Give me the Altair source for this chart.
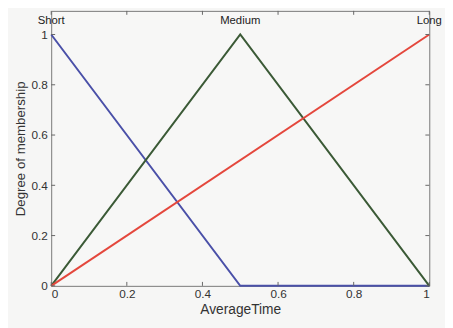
import altair as alt
import pandas as pd

# membership functions (x, y) for each set
short_x = [0.0, 0.5, 1.0]
short_y = [1.0, 0.0, 0.0]
medium_x = [0.0, 0.5, 1.0]
medium_y = [0.0, 1.0, 0.0]
long_x = [0.0, 1.0]
long_y = [0.0, 1.0]

set_names = ["Short", "Medium", "Long"]
label_x = [0.0, 0.5, 1.0]
label_y = [1.055, 1.055, 1.055]

tick_values = [0, 0.2, 0.4, 0.6, 0.8, 1]

colors = {"Short": "#4a50a8", "Medium": "#3b5a36", "Long": "#e4473c"}

rows = []
for name, xs, ys in [("Short", short_x, short_y), ("Medium", medium_x, medium_y), ("Long", long_x, long_y)]:
    for i, (a, b) in enumerate(zip(xs, ys)):
        rows.append({"set": name, "x": a, "y": b, "order": i})
df = pd.DataFrame(rows)
labels = pd.DataFrame({"name": set_names, "x": label_x, "y": label_y})
ticks = pd.DataFrame({"v": tick_values})

W, H = 385, 280
xs = alt.Scale(domain=[0, 1], nice=False)
ys = alt.Scale(domain=[0, 1.094], nice=False)

axis_common = dict(
    grid=False, ticks=False, domain=False,
    labelFont="Liberation Sans", labelFontSize=12, labelColor="#333333",
    titleFont="Liberation Sans", titleFontWeight="normal", titleColor="#333333",
    labelExpr="toString(datum.value)", values=tick_values,
)

lines = alt.Chart(df).mark_line(strokeWidth=2).encode(
    x=alt.X("x:Q", scale=xs, axis=alt.Axis(title="AverageTime", titleFontSize=14, labelPadding=3, titlePadding=3, **axis_common)),
    y=alt.Y("y:Q", scale=ys, axis=alt.Axis(title="Degree of membership", titleFontSize=13.5, labelPadding=4, titlePadding=4, **axis_common)),
    color=alt.Color("set:N", scale=alt.Scale(domain=list(colors.keys()), range=list(colors.values())), legend=None),
    detail="set:N",
    order="order:Q",
)

texts = alt.Chart(labels).mark_text(font="Liberation Sans", fontSize=11.5, color="#222222", baseline="middle").encode(
    x=alt.X("x:Q", scale=xs), y=alt.Y("y:Q", scale=ys), text="name:N"
)

tick_style = dict(color="#666666", strokeWidth=1)
bt = alt.Chart(ticks).mark_rule(**tick_style).encode(x=alt.X("v:Q", scale=xs), y=alt.value(H), y2=alt.value(H - 4))
tt = alt.Chart(ticks).mark_rule(**tick_style).encode(x=alt.X("v:Q", scale=xs), y=alt.value(0), y2=alt.value(4))
lt = alt.Chart(ticks).mark_rule(**tick_style).encode(y=alt.Y("v:Q", scale=ys), x=alt.value(0), x2=alt.value(4))
rt = alt.Chart(ticks).mark_rule(**tick_style).encode(y=alt.Y("v:Q", scale=ys), x=alt.value(W), x2=alt.value(W - 4))

chart = alt.layer(lines, bt, tt, lt, rt, texts).properties(
    width=W, height=H,
    autosize=alt.AutoSizeParams(type="none"),
    padding={"left": 44, "top": 0, "right": 16, "bottom": 40},
    background="#f6f6f5",
).configure_view(
    stroke="#777777", strokeWidth=1, fill="#f7f7f6", clip=False
)

chart.save("out.html", embed_options={"renderer": "svg", "actions": False})
